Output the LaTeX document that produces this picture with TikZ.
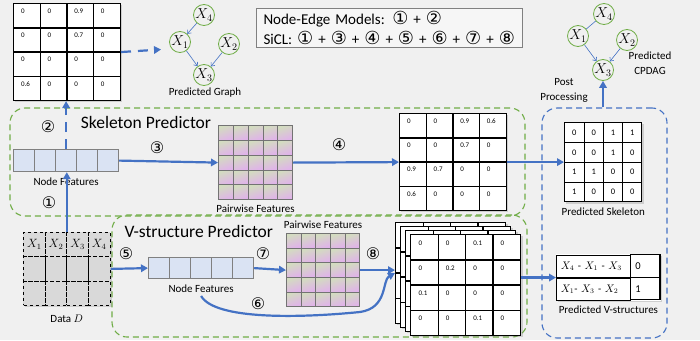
\documentclass[tikz,border=0pt]{standalone}
\usepackage{fontspec}
\setmainfont{Carlito}
\newfontfamily\circfont{DejaVu Sans}
\usetikzlibrary{
  positioning,
  arrows.meta,
  matrix,
  shadows
}
\definecolor{bgcol}{HTML}{F0F0F0}
\definecolor{arrblue}{HTML}{4472C4}
\definecolor{boxgreen}{HTML}{70AD47}
\definecolor{featblue}{HTML}{DAE3F3}
\definecolor{datagray}{HTML}{D9D9D9}
\definecolor{pairgreen}{HTML}{D3DCC0}
\definecolor{pairpink}{HTML}{E0B2EA}
\newcommand{\stepno}[1]{{\circfont\fontsize{18}{20}\selectfont #1}}

\begin{document}
\begin{tikzpicture}[
    x=1pt, y=-1pt,
    every node/.style={font=\fontsize{11}{15}\selectfont},
    gridmat/.style={
        matrix of nodes,
        nodes in empty cells,
        anchor=north west,
        fill=white,
        inner sep=0pt,
        column sep=-1.2pt,
        row sep=-1.2pt,
        drop shadow={shadow xshift=1.5pt, shadow yshift=-1.5pt, opacity=0.3},
        nodes={draw=black, line width=1.2pt, inner sep=0pt}
    },
    scoremat/.style={
        gridmat,
        nodes={
            minimum width=26.6pt,
            minimum height=24.1pt,
            text width=12pt,
            align=left,
            text depth=9pt,
            font=\fontsize{7}{8}\selectfont
        }
    },
    binmat/.style={
        gridmat,
        column sep=-1pt,
        row sep=-1pt,
        nodes={
            line width=1pt,
            minimum width=19.3pt,
            minimum height=19.8pt,
            font=\fontsize{8.5}{9}\selectfont
        }
    },
    datamat/.style={
        matrix of nodes,
        nodes in empty cells,
        anchor=north west,
        fill=datagray,
        inner sep=0pt,
        column sep=-0.8pt,
        row sep=-0.8pt,
        drop shadow={shadow xshift=1.5pt, shadow yshift=-1.5pt, opacity=0.3},
        nodes={
            draw=black,
            dashed,
            line width=0.8pt,
            minimum width=21.6pt,
            minimum height=24.2pt,
            inner sep=0pt,
            font=\fontsize{12}{12}\selectfont
        }
    },
    featrow/.style={
        matrix of nodes,
        nodes in empty cells,
        anchor=north west,
        inner sep=0pt,
        column sep=-0.8pt,
        nodes={
            draw=black!50,
            fill=featblue,
            line width=0.8pt,
            minimum width=21pt,
            minimum height=22pt,
            inner sep=0pt
        }
    },
    pairgrid/.style={
        matrix of nodes,
        nodes in empty cells,
        anchor=north west,
        inner sep=0pt,
        column sep=-0.8pt,
        row sep=-0.8pt,
        nodes={
            draw=black!55,
            line width=0.8pt,
            minimum size=14.8pt,
            inner sep=0pt,
            top color=pairgreen,
            bottom color=pairpink,
            shading angle=20
        }
    },
    vtable/.style={
        matrix of nodes,
        anchor=north west,
        fill=white,
        inner sep=0pt,
        column sep=-1.2pt,
        row sep=-1.2pt,
        drop shadow={shadow xshift=1.5pt, shadow yshift=-1.5pt, opacity=0.3},
        nodes={
            draw=black,
            line width=1.2pt,
            minimum height=22.3pt,
            inner sep=0pt,
            align=left,
            font=\fontsize{10.5}{12}\selectfont
        },
        column 1/.style={nodes={minimum width=74pt, text width=66pt}},
        column 2/.style={nodes={minimum width=29.2pt, text width=20pt}}
    },
    gnode/.style={
        circle,
        draw=boxgreen,
        line width=0.8pt,
        minimum size=21pt,
        inner sep=0pt,
        font=\fontsize{14}{14}\selectfont
    },
    gedge/.style={-{Straight Barb[length=3pt,width=5pt]}, draw=arrblue, line width=0.6pt},
    gline/.style={draw=arrblue, line width=0.6pt},
    predbox/.style={
        draw=boxgreen,
        dash pattern=on 6pt off 4pt,
        line width=1.1pt,
        rounded corners=15pt
    },
    postbox/.style={
        draw=arrblue,
        dash pattern=on 6pt off 4pt,
        line width=1.1pt,
        rounded corners=15pt
    },
    legend/.style={
        draw=black!50,
        line width=1pt,
        fill=white!40!bgcol,
        align=left,
        inner xsep=7pt,
        inner ysep=3pt,
        text width=252pt,
        font=\fontsize{15}{20}\selectfont
    },
    title/.style={font=\fontsize{17.5}{20}\selectfont},
    stepnum/.style={font=\circfont\fontsize{16}{16}\selectfont, inner sep=0pt},
    arrow/.style={-{Triangle[length=7pt,width=7.5pt]}, draw=arrblue, line width=2.2pt},
    dasharrow/.style={arrow, dash pattern=on 10pt off 7pt}
]

% background
\fill[bgcol] (0,0) rectangle (700,340);
\useasboundingbox (0,0) rectangle (700,340);

% predictor boxes
\node[predbox, minimum width=515pt, minimum height=108pt] (skelbox) at (267.5,162) {};
\node[predbox, minimum width=415pt, minimum height=122pt] (vbox) at (319.5,276) {};
\node[postbox, minimum width=125pt, minimum height=230pt] (postbox) at (604.5,223) {};

\node[title] (skeltitle) at (146,122) {Skeleton Predictor};
\node[title, anchor=west] (vtitle) at (121,231) {V-structure Predictor};

% legend
\node[legend, anchor=north west] (legend) at (256,8) {%
Node-Edge Models: \stepno{①} + \stepno{②}\\
SiCL: \stepno{①} + \stepno{③} + \stepno{④} + \stepno{⑤} + \stepno{⑥} + \stepno{⑦} + \stepno{⑧}
};

% node-edge output
\matrix[scoremat] (predmat) at (13,3) {
0 & 0 & 0.9 & 0 \\
0 & 0 & 0.7 & 0 \\
0 & 0 & 0 & 0 \\
0.6 & 0 & 0 & 0 \\
};
\coordinate (graphin) at (161,49.5);

% predicted graph
\node[gnode] (gx4) at (204,15) {$X_4$};
\node[gnode] (gx1) at (180,42) {$X_1$};
\node[gnode] (gx2) at (229,44) {$X_2$};
\node[gnode] (gx3) at (204,75) {$X_3$};
\node (graphlbl) at (205,93) {Predicted Graph};

% skeleton predictor
\matrix[featrow] (nodefeat) at (13,149) {
 & & & & \\
};
\node[below=2pt of nodefeat] (nflbl) {Node Features};

\matrix[pairgrid] (pairs) at (218,125) {
 & & & & \\
 & & & & \\
 & & & & \\
 & & & & \\
 & & & & \\
};
\node[below=1pt of pairs] (pairslbl) {Pairwise Features};

\matrix[scoremat] (skelmat) at (399,113) {
0 & 0 & 0.9 & 0.6 \\
0 & 0 & 0.7 & 0 \\
0.9 & 0.7 & 0 & 0 \\
0.6 & 0 & 0 & 0 \\
};

% data
\matrix[datamat] (data) at (23,232) {
$X_1$ & $X_2$ & $X_3$ & $X_4$ \\
 & & & \\
 & & & \\
};
\node[below=6pt of data] (datalbl) {Data $D$};

% v-structure predictor
\matrix[featrow, nodes={minimum height=21pt}] (nodefeatv) at (148,257) {
 & & & & \\
};
\node[below=2pt of nodefeatv] (nflblv) {Node Features};

\matrix[pairgrid, nodes={minimum size=14.6pt}] (pairv) at (286,233) {
 & & & & \\
 & & & & \\
 & & & & \\
 & & & & \\
 & & & & \\
};
\node[above=1pt of pairv] (pairvlbl) {Pairwise Features};

\matrix[scoremat, nodes={minimum width=27.4pt, minimum height=25.1pt}] (stack1) at (395,222) {
 & & & \\
 & & & \\
 & & & \\
 & & & \\
};
\matrix[scoremat, nodes={minimum width=27.4pt, minimum height=25.1pt}] (stack2) at (400,226) {
 & & & \\
 & & & \\
 & & & \\
 & & & \\
};
\matrix[scoremat, nodes={minimum width=27.4pt, minimum height=25.1pt}] (stack3) at (405,230) {
 & & & \\
 & & & \\
 & & & \\
 & & & \\
};
\matrix[scoremat, nodes={minimum width=27.4pt, minimum height=25.1pt}] (stackf) at (410,234) {
0 & 0 & 0.1 & 0 \\
0 & 0.2 & 0 & 0 \\
0.1 & 0 & 0 & 0 \\
0 & 0 & 0.1 & 0 \\
};

% post processing
\matrix[binmat] (predskel) at (564,122) {
0 & 0 & 1 & 1 \\
0 & 0 & 1 & 0 \\
1 & 1 & 0 & 0 \\
1 & 0 & 0 & 0 \\
};
\node[below=2pt of predskel] (predskellbl) {Predicted Skeleton};

\matrix[vtable] (vtab) at (556,254) {
$X_4$ - $X_1$ - $X_3$ & 0 \\
$X_1$- $X_3$ - $X_2$ & 1 \\
};
\node[below=1pt of vtab] (vtablbl) {Predicted V-structures};

% predicted CPDAG
\node[gnode] (cx4) at (604,14) {$X_4$};
\node[gnode] (cx1) at (578,36) {$X_1$};
\node[gnode] (cx2) at (627,40) {$X_2$};
\node[gnode] (cx3) at (603,70) {$X_3$};
\node[align=center] (cpdaglbl) at (650,63) {Predicted\\CPDAG};
\node[align=center] (postlbl) at (564,90) {Post\\Processing};

% step numbers
\node[stepnum] (s1) at (49,203) {①};
\node[stepnum] (s2) at (48,127) {②};
\node[stepnum] (s3) at (157,148) {③};
\node[stepnum] (s4) at (339,145) {④};
\node[stepnum] (s5) at (126,254) {⑤};
\node[stepnum] (s6) at (258,304) {⑥};
\node[stepnum] (s7) at (263,254) {⑦};
\node[stepnum] (s8) at (373,254) {⑧};

% Arrows
\draw[arrow] (data.north) -- (data.north |- nodefeat.south);
\draw[dasharrow] (nodefeat.north) -- (nodefeat.north |- predmat.south);
\draw[dasharrow] (predmat.east) -- (graphin);
\draw[arrow] (nodefeat.east) -- (pairs.west);
\draw[arrow] (pairs.east) -- (skelmat.west);
\draw[arrow] (skelmat.east) -- (skelmat.east -| predskel.west);
\draw[arrow] (data.east) -- (nodefeatv.west);
\draw[arrow] (nodefeatv.east) -- (pairv.west);
\draw[arrow] (pairv.east) -- (pairv.east -| stack1.west);
\draw[arrow] (nflblv.south) .. controls (215,320) and (300,318) .. (360,312)
    .. controls (388,308) and (382,280) .. (stack1.west);
\draw[arrow] (vtab.west -| stackf.east) -- (vtab.west);
\draw[arrow] (cx3 |- postbox.north) -- (cx3.south);

\draw[gedge] (gx4) -- (gx1);
\draw[gedge] (gx1) -- (gx3);
\draw[gedge] (gx2) -- (gx3);
\draw[gline] (cx4) -- (cx1);
\draw[gedge] (cx1) -- (cx3);
\draw[gedge] (cx2) -- (cx3);

\end{tikzpicture}
\end{document}
